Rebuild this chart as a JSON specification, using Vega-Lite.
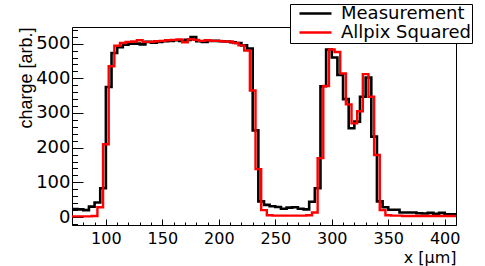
{
  "$schema": "https://vega.github.io/schema/vega-lite/v6.json",
  "width": 384,
  "height": 198,
  "autosize": {"type": "none"},
  "padding": {"left": 72, "top": 27, "right": 29, "bottom": 41},
  "background": "#ffffff",
  "config": {
    "view": {"stroke": "#000000", "strokeWidth": 1},
    "axis": {"domain": false, "grid": false, "tickColor": "#000000", "labelColor": "#000000", "labelFont": "DejaVu Sans", "labelFontSize": 18, "titleFont": "DejaVu Sans", "titleFontWeight": "normal", "titleColor": "#000000", "labelOverlap": false, "labelFlush": false}
  },
  "data": {
    "values": [
      {"s": "Measurement", "x": 70, "y": 23}, {"s": "Measurement", "x": 75, "y": 22}, {"s": "Measurement", "x": 80, "y": 20}, {"s": "Measurement", "x": 85, "y": 30}, {"s": "Measurement", "x": 90, "y": 42}, {"s": "Measurement", "x": 95, "y": 83},
      {"s": "Measurement", "x": 100, "y": 375}, {"s": "Measurement", "x": 105, "y": 473}, {"s": "Measurement", "x": 110, "y": 490}, {"s": "Measurement", "x": 115, "y": 497}, {"s": "Measurement", "x": 120, "y": 500}, {"s": "Measurement", "x": 125, "y": 500},
      {"s": "Measurement", "x": 130, "y": 498}, {"s": "Measurement", "x": 135, "y": 505}, {"s": "Measurement", "x": 140, "y": 503}, {"s": "Measurement", "x": 145, "y": 505}, {"s": "Measurement", "x": 150, "y": 507}, {"s": "Measurement", "x": 155, "y": 508},
      {"s": "Measurement", "x": 160, "y": 510}, {"s": "Measurement", "x": 165, "y": 508}, {"s": "Measurement", "x": 170, "y": 511}, {"s": "Measurement", "x": 175, "y": 519}, {"s": "Measurement", "x": 180, "y": 507}, {"s": "Measurement", "x": 185, "y": 505},
      {"s": "Measurement", "x": 190, "y": 508}, {"s": "Measurement", "x": 195, "y": 508}, {"s": "Measurement", "x": 200, "y": 507}, {"s": "Measurement", "x": 205, "y": 506}, {"s": "Measurement", "x": 210, "y": 504}, {"s": "Measurement", "x": 215, "y": 502},
      {"s": "Measurement", "x": 220, "y": 495}, {"s": "Measurement", "x": 225, "y": 486}, {"s": "Measurement", "x": 230, "y": 250}, {"s": "Measurement", "x": 235, "y": 45}, {"s": "Measurement", "x": 240, "y": 35}, {"s": "Measurement", "x": 245, "y": 31},
      {"s": "Measurement", "x": 250, "y": 29}, {"s": "Measurement", "x": 255, "y": 24}, {"s": "Measurement", "x": 260, "y": 27}, {"s": "Measurement", "x": 265, "y": 28}, {"s": "Measurement", "x": 270, "y": 24}, {"s": "Measurement", "x": 275, "y": 22},
      {"s": "Measurement", "x": 280, "y": 44}, {"s": "Measurement", "x": 285, "y": 83}, {"s": "Measurement", "x": 290, "y": 377}, {"s": "Measurement", "x": 295, "y": 483}, {"s": "Measurement", "x": 300, "y": 460}, {"s": "Measurement", "x": 305, "y": 410},
      {"s": "Measurement", "x": 310, "y": 340}, {"s": "Measurement", "x": 315, "y": 256}, {"s": "Measurement", "x": 320, "y": 275}, {"s": "Measurement", "x": 325, "y": 347}, {"s": "Measurement", "x": 330, "y": 402}, {"s": "Measurement", "x": 335, "y": 232},
      {"s": "Measurement", "x": 340, "y": 45}, {"s": "Measurement", "x": 345, "y": 28}, {"s": "Measurement", "x": 350, "y": 21}, {"s": "Measurement", "x": 355, "y": 21}, {"s": "Measurement", "x": 360, "y": 13}, {"s": "Measurement", "x": 365, "y": 13},
      {"s": "Measurement", "x": 370, "y": 13}, {"s": "Measurement", "x": 375, "y": 11}, {"s": "Measurement", "x": 380, "y": 10}, {"s": "Measurement", "x": 385, "y": 12}, {"s": "Measurement", "x": 390, "y": 9}, {"s": "Measurement", "x": 395, "y": 12},
      {"s": "Measurement", "x": 400, "y": 8}, {"s": "Measurement", "x": 405, "y": 8}, {"s": "Measurement", "x": 410, "y": 8},
      {"s": "Allpix Squared", "x": 70, "y": 2}, {"s": "Allpix Squared", "x": 72.5, "y": 2}, {"s": "Allpix Squared", "x": 77.5, "y": 2}, {"s": "Allpix Squared", "x": 82.5, "y": 2}, {"s": "Allpix Squared", "x": 87.5, "y": 3}, {"s": "Allpix Squared", "x": 92.5, "y": 28},
      {"s": "Allpix Squared", "x": 97.5, "y": 210}, {"s": "Allpix Squared", "x": 102.5, "y": 435}, {"s": "Allpix Squared", "x": 107.5, "y": 494}, {"s": "Allpix Squared", "x": 112.5, "y": 502}, {"s": "Allpix Squared", "x": 117.5, "y": 505}, {"s": "Allpix Squared", "x": 122.5, "y": 506},
      {"s": "Allpix Squared", "x": 127.5, "y": 510}, {"s": "Allpix Squared", "x": 132.5, "y": 505}, {"s": "Allpix Squared", "x": 137.5, "y": 505}, {"s": "Allpix Squared", "x": 142.5, "y": 507}, {"s": "Allpix Squared", "x": 147.5, "y": 508}, {"s": "Allpix Squared", "x": 152.5, "y": 510},
      {"s": "Allpix Squared", "x": 157.5, "y": 511}, {"s": "Allpix Squared", "x": 162.5, "y": 512}, {"s": "Allpix Squared", "x": 167.5, "y": 504}, {"s": "Allpix Squared", "x": 172.5, "y": 513}, {"s": "Allpix Squared", "x": 177.5, "y": 511}, {"s": "Allpix Squared", "x": 182.5, "y": 508},
      {"s": "Allpix Squared", "x": 187.5, "y": 510}, {"s": "Allpix Squared", "x": 192.5, "y": 508}, {"s": "Allpix Squared", "x": 197.5, "y": 508}, {"s": "Allpix Squared", "x": 202.5, "y": 506}, {"s": "Allpix Squared", "x": 207.5, "y": 506}, {"s": "Allpix Squared", "x": 212.5, "y": 502},
      {"s": "Allpix Squared", "x": 217.5, "y": 495}, {"s": "Allpix Squared", "x": 222.5, "y": 480}, {"s": "Allpix Squared", "x": 227.5, "y": 365}, {"s": "Allpix Squared", "x": 232.5, "y": 138}, {"s": "Allpix Squared", "x": 237.5, "y": 20}, {"s": "Allpix Squared", "x": 242.5, "y": 5},
      {"s": "Allpix Squared", "x": 247.5, "y": 4}, {"s": "Allpix Squared", "x": 252.5, "y": 4}, {"s": "Allpix Squared", "x": 257.5, "y": 4}, {"s": "Allpix Squared", "x": 262.5, "y": 4}, {"s": "Allpix Squared", "x": 267.5, "y": 4}, {"s": "Allpix Squared", "x": 272.5, "y": 4},
      {"s": "Allpix Squared", "x": 277.5, "y": 5}, {"s": "Allpix Squared", "x": 282.5, "y": 13}, {"s": "Allpix Squared", "x": 287.5, "y": 170}, {"s": "Allpix Squared", "x": 292.5, "y": 378}, {"s": "Allpix Squared", "x": 297.5, "y": 483}, {"s": "Allpix Squared", "x": 302.5, "y": 476},
      {"s": "Allpix Squared", "x": 307.5, "y": 414}, {"s": "Allpix Squared", "x": 312.5, "y": 325}, {"s": "Allpix Squared", "x": 317.5, "y": 270}, {"s": "Allpix Squared", "x": 322.5, "y": 305}, {"s": "Allpix Squared", "x": 327.5, "y": 412}, {"s": "Allpix Squared", "x": 332.5, "y": 347},
      {"s": "Allpix Squared", "x": 337.5, "y": 179}, {"s": "Allpix Squared", "x": 342.5, "y": 20}, {"s": "Allpix Squared", "x": 347.5, "y": 5}, {"s": "Allpix Squared", "x": 352.5, "y": 4}, {"s": "Allpix Squared", "x": 357.5, "y": 4}, {"s": "Allpix Squared", "x": 362.5, "y": 3},
      {"s": "Allpix Squared", "x": 367.5, "y": 3}, {"s": "Allpix Squared", "x": 372.5, "y": 3}, {"s": "Allpix Squared", "x": 377.5, "y": 3}, {"s": "Allpix Squared", "x": 382.5, "y": 3}, {"s": "Allpix Squared", "x": 387.5, "y": 3}, {"s": "Allpix Squared", "x": 392.5, "y": 3},
      {"s": "Allpix Squared", "x": 397.5, "y": 3}, {"s": "Allpix Squared", "x": 402.5, "y": 3}, {"s": "Allpix Squared", "x": 407.5, "y": 3}, {"s": "Allpix Squared", "x": 410, "y": 3}
    ]
  },
  "encoding": {
    "x": {
      "field": "x", "type": "quantitative",
      "scale": {"domain": [70, 410], "nice": false, "zero": false},
      "axis": {
        "values": [70, 80, 90, 100, 110, 120, 130, 140, 150, 160, 170, 180, 190, 200, 210, 220, 230, 240, 250, 260, 270, 280, 290, 300, 310, 320, 330, 340, 350, 360, 370, 380, 390, 400, 410],
        "format": "d",
        "labelExpr": "datum.value % 50 === 0 && datum.value >= 100 ? datum.label : ''",
        "tickSize": {"condition": {"test": "datum.value % 50 === 0", "value": -6}, "value": -3},
        "labelPadding": 11, "labelFontSize": 16,
        "title": "x [μm]", "titleFontSize": 16, "titleX": 384, "titleY": 24, "titleAlign": "right", "titleBaseline": "top"
      }
    },
    "y": {
      "field": "y", "type": "quantitative",
      "scale": {"domain": [-23, 548], "nice": false, "zero": false},
      "axis": {
        "values": [-20, 0, 20, 40, 60, 80, 100, 120, 140, 160, 180, 200, 220, 240, 260, 280, 300, 320, 340, 360, 380, 400, 420, 440, 460, 480, 500, 520, 540],
        "format": "d",
        "labelExpr": "datum.value % 100 === 0 && datum.value >= 0 ? datum.label : ''",
        "tickSize": {"condition": {"test": "datum.value % 100 === 0", "value": -11}, "value": -5.5},
        "labelPadding": 13,
        "title": "charge [arb.]", "titleFont": "Liberation Sans", "titleFontSize": 18, "titleAngle": 270, "titleX": -55, "titleY": 0, "titleAlign": "right", "titleBaseline": "top"
      }
    },
    "color": {
      "field": "s", "type": "nominal",
      "scale": {"domain": ["Measurement", "Allpix Squared"], "range": ["#000000", "#ff0000"]},
      "legend": {
        "orient": "none", "legendX": 218, "legendY": -23, "title": null, "direction": "vertical",
        "fillColor": "#ffffff", "strokeColor": "#000000", "padding": 1, "cornerRadius": 0,
        "symbolType": "stroke", "symbolSize": 1024, "symbolStrokeWidth": 2.6, "symbolOffset": 7, "clipHeight": 17,
        "labelFont": "DejaVu Sans", "labelFontSize": 18, "labelColor": "#000000", "labelOffset": 8, "rowPadding": 0
      }
    }
  },
  "layer": [
    {"transform": [{"filter": "datum.s === 'Measurement'"}], "mark": {"type": "line", "interpolate": "step-after", "strokeWidth": 2.6, "clip": true}},
    {"transform": [{"filter": "datum.s === 'Allpix Squared'"}], "mark": {"type": "line", "interpolate": "step-after", "strokeWidth": 2.4, "clip": true}}
  ]
}
